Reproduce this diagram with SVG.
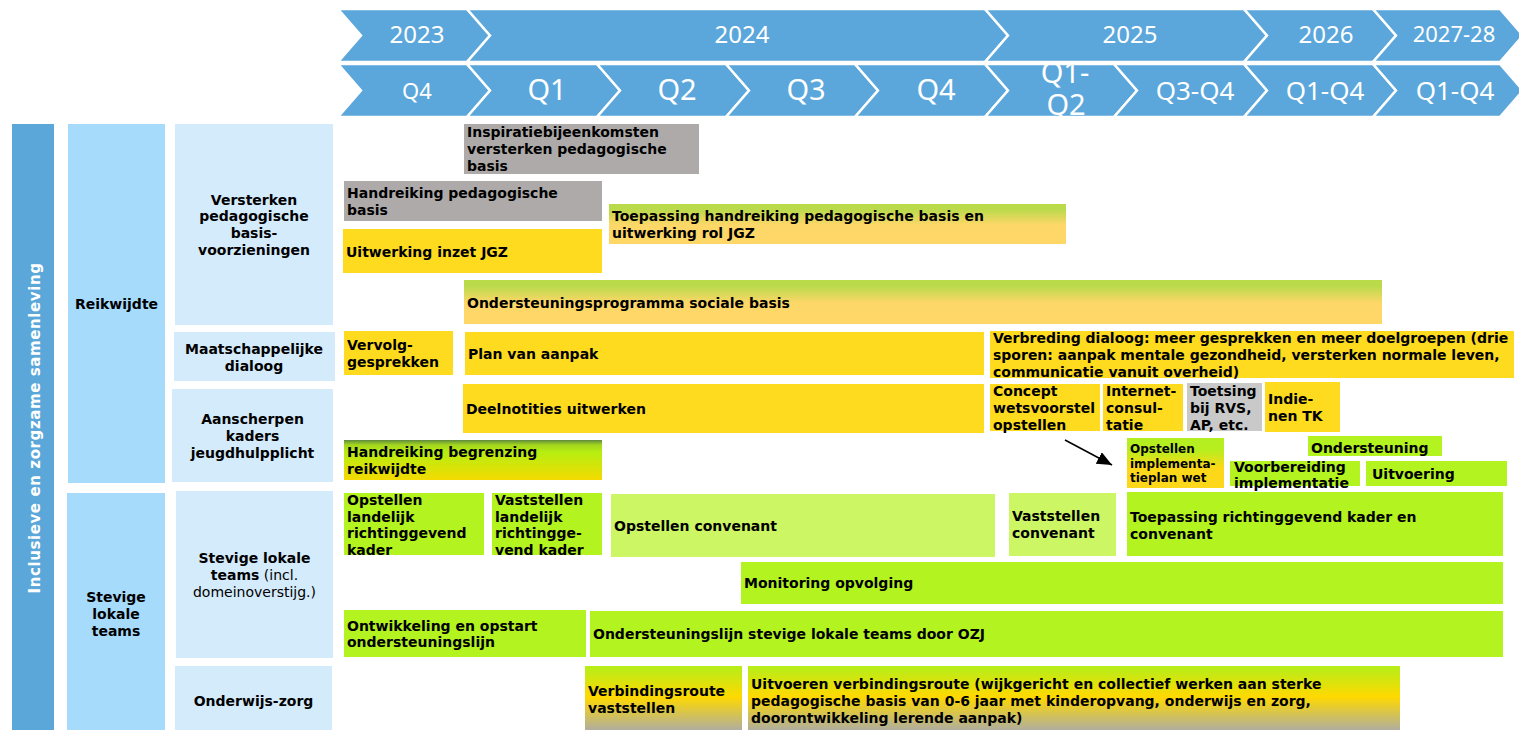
<svg xmlns="http://www.w3.org/2000/svg" width="1519" height="730" viewBox="0 0 1519 730">
<defs>
<style>
.hdr{fill:#5BA7DB;stroke:#fff;stroke-width:2.5;stroke-linejoin:miter}
.ht{font-family:"Noto Sans","DejaVu Sans",sans-serif;fill:#fff;text-anchor:middle}
.t{font-family:"DejaVu Sans",Verdana,sans-serif;font-weight:bold;font-size:14px;fill:#000}
.n{font-weight:normal}
.c{text-anchor:middle}
.yel{fill:#FEDB1E}.gry{fill:#AEAAAA}.gry2{fill:#C9C9C9}.lime{fill:#B3F31F}.llime{fill:#CCF663}
.col1{fill:#5BA7DA}.col2{fill:#A6DBFC}.col3{fill:#D4EBFC}
.conn{stroke:#000;stroke-width:1.5;fill:none}
</style>
<linearGradient id="gOr" x1="0" y1="0" x2="0" y2="1">
<stop offset="0" stop-color="#B8DA48"/><stop offset="0.15" stop-color="#BCDA4C"/><stop offset="0.52" stop-color="#FDD768"/><stop offset="1" stop-color="#FED767"/>
</linearGradient>
<linearGradient id="gHand" x1="0" y1="0" x2="0" y2="1">
<stop offset="0" stop-color="#5E8A3D"/><stop offset="0.12" stop-color="#A3D51F"/><stop offset="0.3" stop-color="#B6EE12"/><stop offset="1" stop-color="#F4DA00"/>
</linearGradient>
<linearGradient id="gImpl" x1="0" y1="0" x2="0" y2="1">
<stop offset="0" stop-color="#B3EF22"/><stop offset="0.25" stop-color="#B8EE1E"/><stop offset="0.6" stop-color="#FDD81A"/><stop offset="1" stop-color="#FDD81A"/>
</linearGradient>
<linearGradient id="gVerb" x1="0" y1="0" x2="0" y2="1">
<stop offset="0" stop-color="#B4EE1A"/><stop offset="0.48" stop-color="#FFD900"/><stop offset="1" stop-color="#B0AE9E"/>
</linearGradient>
<marker id="arr" markerUnits="userSpaceOnUse" markerWidth="16" markerHeight="14" refX="15" refY="6.5" orient="auto">
<path d="M0,0 L15,6.5 L0,13 z" fill="#000"/>
</marker>
<clipPath id="cpA"><rect x="344" y="493" width="140" height="62"/></clipPath>
<clipPath id="cpB"><rect x="492" y="493" width="110" height="62"/></clipPath>
</defs>

<g id="header">
<polygon class="hdr" points="338,9 467,9 490,35.5 467,62 338,62 361,35.5"/>
<polygon class="hdr" points="467,9 985,9 1008,35.5 985,62 467,62 490,35.5"/>
<polygon class="hdr" points="985,9 1244,9 1267,35.5 1244,62 985,62 1008,35.5"/>
<polygon class="hdr" points="1244,9 1373,9 1396,35.5 1373,62 1244,62 1267,35.5"/>
<polygon class="hdr" points="1373,9 1500,9 1523,35.5 1500,62 1373,62 1396,35.5"/>
<polygon class="hdr" points="338,64 467,64 490,90.5 467,117 338,117 361,90.5"/>
<polygon class="hdr" points="467,64 597,64 620,90.5 597,117 467,117 490,90.5"/>
<polygon class="hdr" points="597,64 726,64 749,90.5 726,117 597,117 620,90.5"/>
<polygon class="hdr" points="726,64 855,64 878,90.5 855,117 726,117 749,90.5"/>
<polygon class="hdr" points="855,64 985,64 1008,90.5 985,117 855,117 878,90.5"/>
<polygon class="hdr" points="985,64 1114,64 1137,90.5 1114,117 985,117 1008,90.5"/>
<polygon class="hdr" points="1114,64 1244,64 1267,90.5 1244,117 1114,117 1137,90.5"/>
<polygon class="hdr" points="1244,64 1373,64 1396,90.5 1373,117 1244,117 1267,90.5"/>
<polygon class="hdr" points="1373,64 1500,64 1523,90.5 1500,117 1373,117 1396,90.5"/>
<text class="ht" x="417" y="43" font-size="24">2023</text>
<text class="ht" x="742" y="43" font-size="24">2024</text>
<text class="ht" x="1130" y="43" font-size="24">2025</text>
<text class="ht" x="1326" y="43" font-size="24">2026</text>
<text class="ht" x="1454" y="42" font-size="22">2027-28</text>
<text class="ht" x="417" y="99" font-size="22">Q4</text>
<text class="ht" x="547" y="100" font-size="29">Q1</text>
<text class="ht" x="677" y="100" font-size="29">Q2</text>
<text class="ht" x="806" y="100" font-size="29">Q3</text>
<text class="ht" x="936" y="100" font-size="29">Q4</text>
<text class="ht" x="1065" y="83" font-size="29">Q1-</text>
<text class="ht" x="1066" y="115" font-size="29">Q2</text>
<text class="ht" x="1195" y="100" font-size="26">Q3-Q4</text>
<text class="ht" x="1325" y="100" font-size="26">Q1-Q4</text>
<text class="ht" x="1455" y="100" font-size="26">Q1-Q4</text>
</g>

<g id="theme">
<rect class="col1" x="12" y="124" width="42" height="606"/>
<text class="t" transform="translate(40,428) rotate(-90)" text-anchor="middle" font-size="15" letter-spacing="0.6" fill="#fff" style="fill:#fff;font-size:15px">Inclusieve en zorgzame samenleving</text>
</g>
<g id="reikwijdte">
<rect class="col2" x="68" y="124" width="97" height="359"/>
<text class="t c" x="116.5" y="309">Reikwijdte</text>
</g>
<g id="stevige-lokale-teams">
<rect class="col2" x="67" y="493" width="98" height="237"/>
<text class="t c" x="116" y="602">Stevige</text>
<text class="t c" x="116" y="619">lokale</text>
<text class="t c" x="116" y="636">teams</text>
</g>
<g id="versterken">
<rect class="col3" x="175" y="124" width="158" height="201"/>
<text class="t c" x="254" y="205">Versterken</text>
<text class="t c" x="254" y="221">pedagogische</text>
<text class="t c" x="254" y="238">basis-</text>
<text class="t c" x="254" y="255">voorzieningen</text>
</g>
<g id="maatschappelijke-dialoog">
<rect class="col3" x="174" y="332" width="161" height="49"/>
<text class="t c" x="254" y="354">Maatschappelijke</text>
<text class="t c" x="254" y="371">dialoog</text>
</g>
<g id="aanscherpen">
<rect class="col3" x="172" y="389" width="161" height="93"/>
<text class="t c" x="252.5" y="424">Aanscherpen</text>
<text class="t c" x="252.5" y="441">kaders</text>
<text class="t c" x="252.5" y="458">jeugdhulpplicht</text>
</g>
<g id="stevige-teams-incl">
<rect class="col3" x="176" y="491" width="157" height="167"/>
<text class="t c" x="254.5" y="563">Stevige lokale</text>
<text class="t c" x="254.5" y="580">teams<tspan class="n"> (incl.</tspan></text>
<text class="t c n" x="254.5" y="597">domeinoverstijg.)</text>
</g>
<g id="onderwijs-zorg">
<rect class="col3" x="175" y="666" width="157" height="64"/>
<text class="t c" x="253.5" y="706">Onderwijs-zorg</text>
</g>

<g id="inspiratie">
<rect class="gry" x="464" y="124" width="235" height="50"/>
<text class="t" x="467" y="137">Inspiratiebijeenkomsten</text>
<text class="t" x="467" y="154">versterken pedagogische</text>
<text class="t" x="467" y="171">basis</text>
</g>
<g id="handreiking-ped">
<rect class="gry" x="344" y="181" width="258" height="40"/>
<text class="t" x="347" y="198">Handreiking pedagogische</text>
<text class="t" x="347" y="215">basis</text>
</g>
<g id="uitwerking-jgz">
<rect class="yel" x="343" y="229" width="259" height="44"/>
<text class="t" x="346" y="257">Uitwerking inzet JGZ</text>
</g>
<g id="toepassing-handreiking">
<rect fill="url(#gOr)" x="609" y="204" width="457" height="40"/>
<text class="t" x="612" y="221">Toepassing handreiking pedagogische basis en</text>
<text class="t" x="612" y="238">uitwerking rol JGZ</text>
</g>
<g id="ondersteuningsprogramma">
<rect fill="url(#gOr)" x="464" y="280" width="918" height="44"/>
<text class="t" x="467" y="308">Ondersteuningsprogramma sociale basis</text>
</g>
<g id="vervolggesprekken">
<rect class="yel" x="344" y="331" width="109" height="44"/>
<text class="t" x="347" y="350">Vervolg-</text>
<text class="t" x="347" y="367">gesprekken</text>
</g>
<g id="plan-van-aanpak">
<rect class="yel" x="465" y="332" width="519" height="43"/>
<text class="t" x="468" y="359">Plan van aanpak</text>
</g>
<g id="verbreding-dialoog">
<rect class="yel" x="990" y="331" width="524" height="47"/>
<text class="t" x="993" y="343">Verbreding dialoog: meer gesprekken en meer doelgroepen (drie</text>
<text class="t" x="993" y="360">sporen: aanpak mentale gezondheid, versterken normale leven,</text>
<text class="t" x="993" y="377">communicatie vanuit overheid)</text>
</g>
<g id="deelnotities">
<rect class="yel" x="463" y="384" width="521" height="49"/>
<text class="t" x="466" y="414">Deelnotities uitwerken</text>
</g>
<g id="concept-wetsvoorstel">
<rect class="yel" x="990" y="384" width="110" height="47"/>
<text class="t" x="993" y="396">Concept</text>
<text class="t" x="993" y="413">wetsvoorstel</text>
<text class="t" x="993" y="430">opstellen</text>
</g>
<g id="internetconsultatie">
<rect class="yel" x="1103" y="384" width="80" height="47"/>
<text class="t" x="1106" y="396">Internet-</text>
<text class="t" x="1106" y="413">consul-</text>
<text class="t" x="1106" y="430">tatie</text>
</g>
<g id="toetsing">
<rect class="gry2" x="1187" y="383" width="75" height="48"/>
<text class="t" x="1190" y="396">Toetsing</text>
<text class="t" x="1190" y="413">bij RVS,</text>
<text class="t" x="1190" y="430">AP, etc.</text>
</g>
<g id="indienen-tk">
<rect class="yel" x="1265" y="382" width="75" height="50"/>
<text class="t" x="1268" y="404">Indie-</text>
<text class="t" x="1268" y="421">nen TK</text>
</g>
<g id="handreiking-begrenzing">
<rect fill="url(#gHand)" x="344" y="440" width="258" height="40"/>
<text class="t" x="347" y="457">Handreiking begrenzing</text>
<text class="t" x="347" y="474">reikwijdte</text>
</g>
<g id="implementatieplan">
<rect fill="url(#gImpl)" x="1127" y="438" width="97" height="50"/>
<text class="t" x="1130" y="453" style="font-size:12px">Opstellen</text>
<text class="t" x="1130" y="467.5" style="font-size:12px">implementa-</text>
<text class="t" x="1130" y="482" style="font-size:12px">tieplan wet</text>
</g>
<g id="ondersteuning">
<rect class="lime" x="1308" y="436" width="134" height="20"/>
<text class="t" x="1311" y="452.5">Ondersteuning</text>
</g>
<g id="voorbereiding">
<rect class="lime" x="1230" y="461" width="130" height="25"/>
<text class="t" x="1234" y="472">Voorbereiding</text>
<text class="t" x="1234" y="488">implementatie</text>
</g>
<g id="uitvoering">
<rect class="lime" x="1366" y="461" width="141" height="25"/>
<text class="t" x="1372" y="479">Uitvoering</text>
</g>
<g id="opstellen-kader">
<rect class="lime" x="344" y="493" width="140" height="62"/>
<g clip-path="url(#cpA)">
<text class="t" x="347" y="505">Opstellen</text>
<text class="t" x="347" y="521.5">landelijk</text>
<text class="t" x="347" y="538">richtinggevend</text>
<text class="t" x="347" y="554.5">kader</text>
</g>
</g>
<g id="vaststellen-kader">
<rect class="lime" x="492" y="493" width="110" height="62"/>
<g clip-path="url(#cpB)">
<text class="t" x="495" y="505">Vaststellen</text>
<text class="t" x="495" y="521.5">landelijk</text>
<text class="t" x="495" y="538">richtingge-</text>
<text class="t" x="495" y="554.5">vend kader</text>
</g>
</g>
<g id="opstellen-convenant">
<rect class="llime" x="611" y="494" width="384" height="63"/>
<text class="t" x="614" y="531">Opstellen convenant</text>
</g>
<g id="vaststellen-convenant">
<rect class="llime" x="1009" y="493" width="107" height="63"/>
<text class="t" x="1012" y="521">Vaststellen</text>
<text class="t" x="1012" y="538">convenant</text>
</g>
<g id="toepassing-kader">
<rect class="lime" x="1127" y="492" width="376" height="64"/>
<text class="t" x="1130" y="522">Toepassing richtinggevend kader en</text>
<text class="t" x="1130" y="539">convenant</text>
</g>
<g id="monitoring">
<rect class="lime" x="741" y="562" width="762" height="42"/>
<text class="t" x="744" y="588">Monitoring opvolging</text>
</g>
<g id="ontwikkeling">
<rect class="lime" x="344" y="610" width="242" height="47"/>
<text class="t" x="347" y="631">Ontwikkeling en opstart</text>
<text class="t" x="347" y="647">ondersteuningslijn</text>
</g>
<g id="ondersteuningslijn">
<rect class="lime" x="590" y="611" width="913" height="46"/>
<text class="t" x="593" y="639">Ondersteuningslijn stevige lokale teams door OZJ</text>
</g>
<g id="verbindingsroute">
<rect fill="url(#gVerb)" x="585" y="666" width="157" height="64"/>
<text class="t" x="588" y="696">Verbindingsroute</text>
<text class="t" x="588" y="713">vaststellen</text>
</g>
<g id="uitvoeren-verbindingsroute">
<rect fill="url(#gVerb)" x="748" y="666" width="652" height="64"/>
<text class="t" x="751" y="689">Uitvoeren verbindingsroute (wijkgericht en collectief werken aan sterke</text>
<text class="t" x="751" y="706">pedagogische basis van 0-6 jaar met kinderopvang, onderwijs en zorg,</text>
<text class="t" x="751" y="723">doorontwikkeling lerende aanpak)</text>
</g>

<g id="connectors">
<line class="conn" x1="1065" y1="440" x2="1112" y2="465" marker-end="url(#arr)"/>
</g>
</svg>
